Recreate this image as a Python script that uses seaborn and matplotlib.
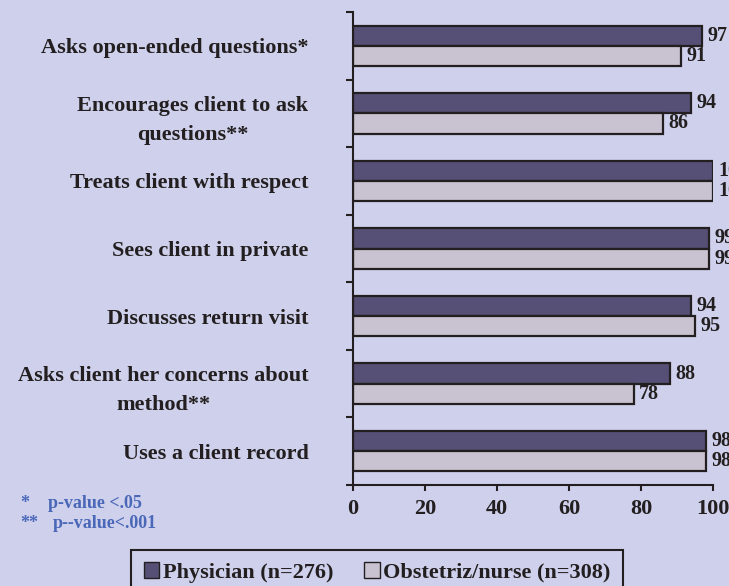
import numpy as np
import pandas as pd
import matplotlib
matplotlib.use('Agg')
import matplotlib.pyplot as plt
import seaborn as sns

# data
items = ['Asks open-ended questions*',
         'Encourages client to ask\nquestions**',
         'Treats client with respect',
         'Sees client in private',
         'Discusses return visit',
         'Asks client her concerns about\nmethod**',
         'Uses a client record']
physician = [97, 94, 100, 99, 94, 88, 98]
nurse = [91, 86, 100, 99, 95, 78, 98]
groups = ['Physician (n=276)', 'Obstetriz/nurse (n=308)']

df = pd.DataFrame({
    'item': items * 2,
    'pct': physician + nurse,
    'group': [groups[0]] * len(items) + [groups[1]] * len(items),
})

bg = '#cfd1ec'
ink = '#231f20'
pal = {groups[0]: '#565077', groups[1]: '#c9c3d1'}

sns.set_style('ticks')
plt.rcParams['font.family'] = ['Liberation Serif', 'DejaVu Serif']
plt.rcParams['font.weight'] = 'bold'
plt.rcParams['text.color'] = ink

fig = plt.figure(figsize=(7.29, 5.86), dpi=100, facecolor=bg)
ax = fig.add_axes([353 / 729, 101 / 586, 360 / 729, 473 / 586])
ax.set_facecolor(bg)

sns.barplot(data=df, x='pct', y='item', hue='group', order=items,
            hue_order=groups, palette=pal, width=0.6, orient='h',
            edgecolor=ink, linewidth=1.6, saturation=1, ax=ax)

for c in ax.containers:
    ax.bar_label(c, fmt='%d', padding=4, fontsize=14.5, fontweight='bold',
                 color=ink, clip_on=False)

ax.set_xlim(0, 100)
ax.set_ylim(6.5, -0.5)
ax.set_xticks([0, 20, 40, 60, 80, 100])
ax.tick_params(axis='x', length=4, width=1.5, color=ink, pad=6,
               labelsize=16, labelcolor=ink)
ax.set_yticks(range(len(items)))
ax.set_yticklabels(items)
ax.set_yticks(np.arange(-0.5, len(items)), minor=True)
ax.tick_params(axis='y', which='major', length=0, pad=32, labelsize=16,
               labelcolor=ink)
ax.tick_params(axis='y', which='minor', length=5, width=1.5, color=ink)
for t in ax.get_yticklabels():
    t.set_multialignment('center')
    t.set_linespacing(1.6)
    t.set_fontweight('bold')
for t in ax.get_xticklabels():
    t.set_fontweight('bold')
ax.set_xlabel('')
ax.set_ylabel('')
sns.despine(ax=ax)
for s in ['left', 'bottom']:
    ax.spines[s].set_linewidth(1.5)
    ax.spines[s].set_color(ink)

ax.get_legend().remove()
handles = [plt.Rectangle((0, 0), 1, 1, facecolor=pal[g], edgecolor=ink,
                         linewidth=1) for g in groups]
leg = fig.legend(handles, groups, loc='upper center', ncol=2,
                 bbox_to_anchor=(377 / 729, 1 - 550 / 586),
                 frameon=True, fancybox=False, edgecolor=ink,
                 facecolor=bg, framealpha=1, handlelength=0.7,
                 handleheight=0.7, handletextpad=0.15, columnspacing=1.4,
                 borderpad=0.55, borderaxespad=0,
                 prop={'size': 16, 'weight': 'bold'})
leg.get_frame().set_linewidth(1.5)

blue = '#4a67b8'
fig.text(20 / 729, 1 - 503 / 586, '*', color=blue, fontsize=13, va='center')
fig.text(48 / 729, 1 - 503 / 586, 'p-value <.05', color=blue, fontsize=13,
         va='center')
fig.text(20 / 729, 1 - 523 / 586, '**', color=blue, fontsize=13, va='center')
fig.text(53 / 729, 1 - 523 / 586, 'p--value<.001', color=blue, fontsize=13,
         va='center')

fig.savefig('out.png', dpi=100, facecolor=bg)
